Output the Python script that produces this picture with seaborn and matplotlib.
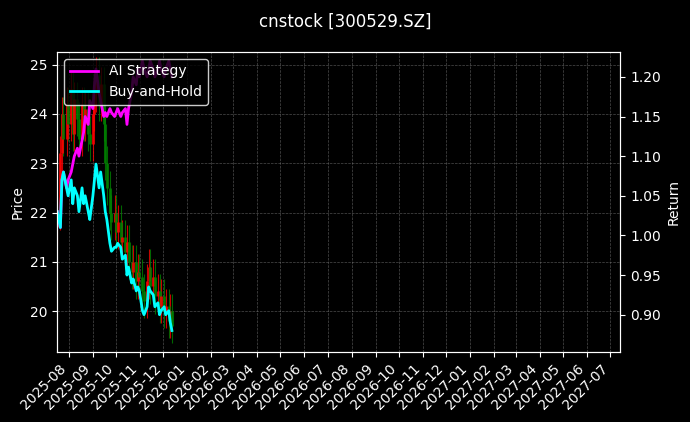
import numpy as np
import pandas as pd
import seaborn as sns
import matplotlib.pyplot as plt
import matplotlib.dates as mdates

closes = [22.0, 23.2, 24.0, 23.5, 24.2, 23.8, 24.5, 23.6, 24.3, 23.9,
          23.5, 24.2, 23.8, 24.1, 23.6, 23.4, 24.0, 24.4, 24.8, 24.2,
          24.6, 23.8, 23.0, 22.5, 22.0, 21.8, 22.0, 21.6, 21.8, 21.4,
          21.5, 21.2, 21.4, 21.0, 20.8, 21.0, 20.6, 20.8, 20.7, 20.4,
          20.2, 20.6, 20.9, 20.5, 20.7, 20.3, 20.4, 20.1, 20.3, 20.0,
          20.1, 19.8, 20.0, 19.7]
buy_hold = [1.03, 1.01, 1.07, 1.08, 1.06, 1.05, 1.07, 1.04, 1.06, 1.05,
            1.03, 1.06, 1.04, 1.05, 1.03, 1.02, 1.05, 1.07, 1.09, 1.06,
            1.08, 1.05, 1.03, 1.02, 0.99, 0.98, 0.985, 0.985, 0.99, 0.985,
            0.97, 0.975, 0.95, 0.96, 0.94, 0.945, 0.93, 0.935, 0.93, 0.905,
            0.90, 0.91, 0.935, 0.93, 0.925, 0.91, 0.915, 0.90, 0.905, 0.91,
            0.90, 0.905, 0.89, 0.88]
ai_strategy = [1.03, 1.01, 1.07, 1.08, 1.06, 1.07, 1.08, 1.09, 1.10, 1.11,
               1.10, 1.12, 1.13, 1.15, 1.14, 1.17, 1.16, 1.19, 1.21, 1.18,
               1.17, 1.15, 1.155, 1.15, 1.16, 1.155, 1.15, 1.155, 1.16, 1.15,
               1.155, 1.16, 1.14, 1.16, 1.18, 1.20, 1.19, 1.21, 1.20, 1.22,
               1.21, 1.20, 1.21, 1.22, 1.21, 1.20, 1.21, 1.22, 1.21, 1.20,
               1.21, 1.22, 1.21, 1.20]

dates = pd.bdate_range("2025-07-17", periods=len(closes), freq="2B")
opens = [closes[0] - 0.3] + closes[:-1]
df = pd.DataFrame({"date": dates, "open": opens, "close": closes,
                   "AI Strategy": ai_strategy, "Buy-and-Hold": buy_hold})

plt.style.use("dark_background")
fig, ax = plt.subplots(figsize=(6.9, 4.22), dpi=100)
fig.subplots_adjust(left=0.083, right=0.899, top=0.877, bottom=0.166)

# candles: red up, green down
up = df["close"] >= df["open"]
colors = np.where(up, "red", "green")
hi = np.maximum(df["open"], df["close"]) + 0.35
lo = np.minimum(df["open"], df["close"]) - 0.35
ax.vlines(df["date"], lo, hi, colors=colors, linewidth=0.8, alpha=0.8)
ax.vlines(df["date"], df["open"], df["close"], colors=colors, linewidth=2.2, alpha=0.8)
ax.set_ylim(19.17, 25.26)
ax.set_ylabel("Price")
ax.grid(True, linestyle="--", linewidth=0.5, color="gray", alpha=0.6)

ax2 = ax.twinx()
sns.lineplot(data=df, x="date", y="AI Strategy", ax=ax2, color="magenta", linewidth=2, label="AI Strategy")
sns.lineplot(data=df, x="date", y="Buy-and-Hold", ax=ax2, color="cyan", linewidth=2, label="Buy-and-Hold")
ax2.set_ylim(0.853, 1.2315)
ax2.set_ylabel("Return")
ax2.set_xlabel("")
ax2.legend(loc="upper left", facecolor="black", edgecolor="white")

ax.set_xlim(pd.Timestamp("2025-07-17"), pd.Timestamp("2027-07-14"))
ax.xaxis.set_major_locator(mdates.MonthLocator())
ax.xaxis.set_major_formatter(mdates.DateFormatter("%Y-%m"))
plt.setp(ax.get_xticklabels(), rotation=45, ha="right")
ax.set_xlabel("")

fig.suptitle("cnstock [300529.SZ]", y=0.97)
fig.savefig("out.png")
